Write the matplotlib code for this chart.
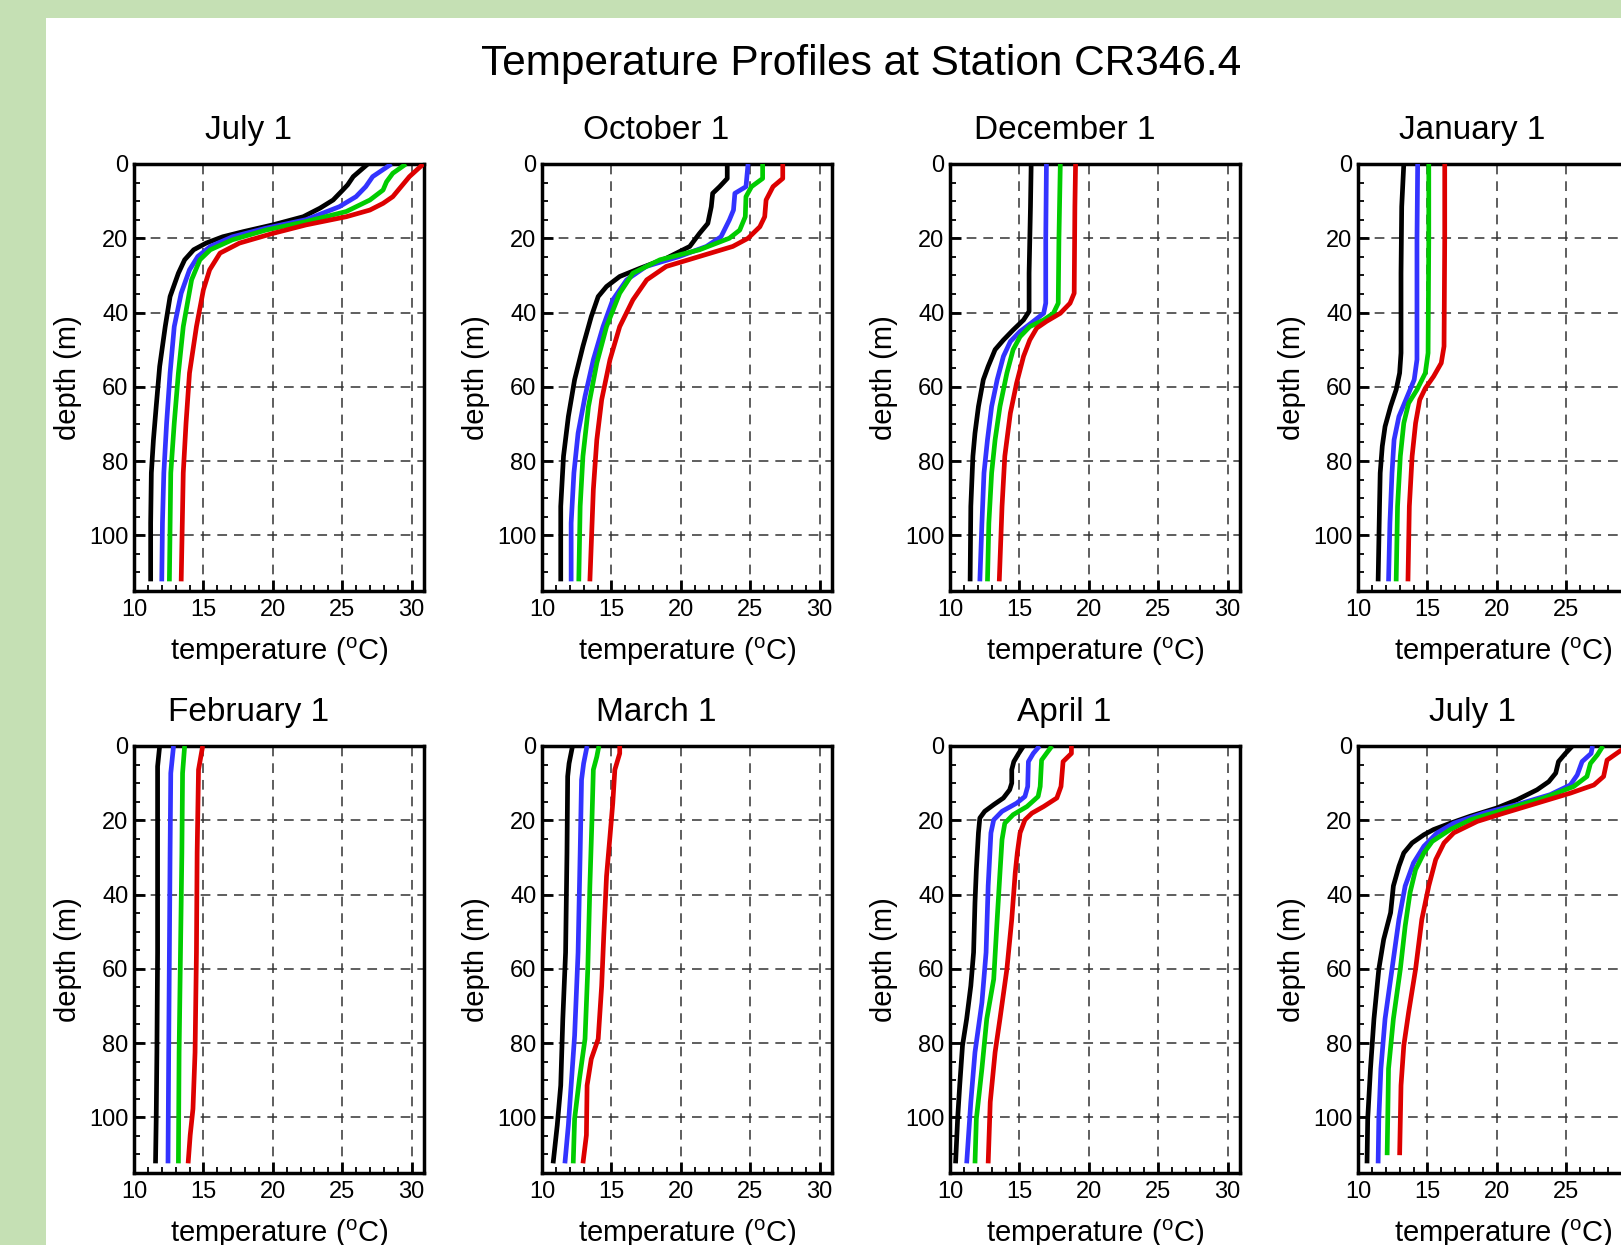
import matplotlib
matplotlib.use('Agg')
import matplotlib.pyplot as plt
from matplotlib.patches import Rectangle
from matplotlib.ticker import MultipleLocator

# depth (m) / temperature (C) in each panel
# July 1 (first)
jul1_k_d = [0, 3.4, 5.6, 7, 9.7, 11.9, 14.2, 16.4, 18.2, 19.6, 21.3, 23.1, 25.8, 29.4, 35.7, 43.8, 54.5, 65.3, 74.3, 83.2, 96.7, 112.4]
jul1_k_t = [26.85, 25.8, 25.4, 25.05, 24.35, 23.4, 22.2, 20.0, 17.9, 16.4, 15.2, 14.3, 13.65, 13.2, 12.6, 12.25, 11.85, 11.6, 11.4, 11.25, 11.2, 11.2]
jul1_b_d = [0, 3.4, 6.1, 8.8, 11.5, 15, 17.3, 19.6, 22.2, 24.9, 28.5, 34.8, 43.8, 56.3, 69.8, 83.2, 96.7, 112.4]
jul1_b_t = [28.55, 27.2, 26.7, 26.0, 24.8, 22.4, 19.5, 17.1, 15.5, 14.6, 14.0, 13.4, 12.9, 12.6, 12.35, 12.15, 12.05, 12.0]
jul1_g_d = [0, 2.5, 4.8, 7, 9.7, 12.8, 15.5, 17.8, 20.4, 23.1, 25.8, 31.2, 43.8, 56.3, 69.8, 83.2, 112.4]
jul1_g_t = [29.6, 28.65, 28.2, 27.95, 27.0, 25.3, 22.4, 19.5, 17.1, 15.5, 14.75, 14.15, 13.55, 13.2, 12.9, 12.65, 12.55]
jul1_r_d = [0, 3.4, 6.1, 8.8, 10.6, 12.4, 14.2, 16.4, 18.7, 21.3, 24.0, 28.5, 33.9, 43.8, 56.3, 69.8, 83.2, 112.4]
jul1_r_t = [30.85, 29.85, 29.25, 28.65, 27.95, 27.0, 25.3, 22.4, 20.0, 17.6, 16.2, 15.45, 15.0, 14.5, 14.0, 13.75, 13.55, 13.4]

# October 1
oct_k_d = [0, 3.9, 6.1, 7.9, 11.5, 16, 18.7, 22.2, 25.4, 28.1, 30.3, 33, 35.7, 41.1, 49.1, 58.1, 68, 78.7, 92.2, 112.4]
oct_k_t = [23.35, 23.35, 22.8, 22.3, 22.2, 21.95, 21.35, 20.65, 18.95, 17.05, 15.6, 14.65, 14.05, 13.55, 12.95, 12.35, 11.9, 11.55, 11.35, 11.35]
oct_b_d = [0, 6.1, 7.9, 12.4, 15.1, 19.6, 22.2, 24.9, 27.6, 31.2, 36.6, 43.8, 52.7, 62.6, 72.5, 83.2, 96.7, 112.4]
oct_b_t = [24.85, 24.7, 23.9, 23.8, 23.5, 22.9, 21.85, 19.9, 17.5, 16.1, 15.1, 14.4, 13.7, 13.1, 12.6, 12.3, 12.1, 12.1]
oct_g_d = [0, 3.9, 6.1, 8.8, 14.2, 17.8, 20, 23.1, 25.8, 29.4, 34.8, 43.8, 53.6, 65.3, 78.7, 92.2, 112.4]
oct_g_t = [25.9, 25.9, 25.1, 24.7, 24.65, 24.25, 23.5, 21.35, 18.5, 16.55, 15.6, 14.65, 13.95, 13.35, 12.95, 12.75, 12.65]
oct_r_d = [0, 3.9, 6.1, 9.7, 14.2, 16.9, 20, 22.2, 24.9, 27.6, 31.2, 36.6, 43.8, 52.7, 63.5, 74.3, 87.7, 112.4]
oct_r_t = [27.35, 27.35, 26.65, 26.15, 26.05, 25.7, 24.85, 23.75, 21.35, 18.95, 17.55, 16.55, 15.6, 14.9, 14.3, 13.95, 13.7, 13.45]

# December 1
dec_k_d = [0, 11.5, 29.4, 39.7, 42, 44.7, 47.4, 50, 54.5, 58.1, 65.3, 72.5, 78.7, 92.2, 112.4]
dec_k_t = [15.85, 15.8, 15.7, 15.7, 15.3, 14.55, 13.85, 13.25, 12.75, 12.4, 12.05, 11.8, 11.65, 11.5, 11.45]
dec_b_d = [0, 20.4, 37.5, 40.2, 42.4, 45.1, 47.8, 51.8, 58.1, 65.3, 74.3, 83.2, 96.7, 112.4]
dec_b_t = [16.95, 16.9, 16.9, 16.75, 16.0, 15.05, 14.35, 13.85, 13.4, 13.0, 12.7, 12.45, 12.3, 12.15]
dec_g_d = [0, 20.4, 37.5, 40.2, 42, 43.8, 46.5, 50, 56.3, 65.3, 74.3, 83.2, 96.7, 112.4]
dec_g_t = [17.95, 17.85, 17.8, 17.45, 16.75, 15.75, 15.05, 14.55, 14.1, 13.6, 13.25, 13.0, 12.8, 12.7]
dec_r_d = [0, 11.5, 34.8, 37.5, 40.2, 42.4, 44.2, 47.4, 51.8, 59, 67.1, 78.7, 92.2, 112.4]
dec_r_t = [19.05, 19.0, 18.95, 18.65, 17.95, 16.95, 16.25, 15.75, 15.3, 14.8, 14.35, 13.95, 13.75, 13.55]

# January 1
jan_k_d = [0, 11.5, 29.4, 50.9, 56.3, 60.8, 65.3, 70.7, 76, 83.2, 92.2, 112.4]
jan_k_t = [13.3, 13.15, 13.1, 13.1, 13.0, 12.75, 12.35, 11.95, 11.75, 11.6, 11.55, 11.45]
jan_b_d = [0, 20.4, 52.7, 58.1, 62.6, 68, 74.3, 83.2, 96.7, 112.4]
jan_b_t = [14.3, 14.25, 14.25, 14.05, 13.55, 12.95, 12.6, 12.45, 12.3, 12.2]
jan_g_d = [0, 20.4, 50.9, 56.3, 60.8, 64.4, 69.8, 78.7, 92.2, 112.4]
jan_g_t = [15.1, 15.1, 15.05, 14.85, 14.25, 13.65, 13.3, 13.05, 12.85, 12.75]
jan_r_d = [0, 20.4, 49.1, 53.6, 57.2, 60.4, 63.5, 69.8, 78.7, 92.2, 112.4]
jan_r_t = [16.25, 16.25, 16.2, 16.0, 15.45, 14.85, 14.45, 14.15, 13.9, 13.7, 13.6]

# February 1
feb_k_d = [0, 5.5, 19.9, 55.6, 82.5, 100.4, 112.4]
feb_k_t = [11.85, 11.7, 11.7, 11.7, 11.65, 11.6, 11.55]
feb_b_d = [0, 7.3, 28.8, 55.6, 82.5, 112.4]
feb_b_t = [12.85, 12.65, 12.6, 12.55, 12.5, 12.45]
feb_g_d = [0, 7.3, 28.8, 55.6, 82.5, 112.4]
feb_g_t = [13.65, 13.5, 13.45, 13.35, 13.25, 13.2]
feb_r_d = [0, 6.4, 28.8, 55.6, 82.5, 97.7, 104.8, 112.4]
feb_r_t = [14.95, 14.65, 14.55, 14.5, 14.4, 14.25, 14.05, 13.9]

# March 1
mar_k_d = [0, 4.7, 8.2, 28.8, 55.6, 73.5, 91.4, 102.1, 112.4]
mar_k_t = [12.2, 11.95, 11.85, 11.8, 11.7, 11.5, 11.35, 11.1, 10.8]
mar_b_d = [0, 4.7, 9.1, 28.8, 55.6, 78, 91.4, 102.1, 112.4]
mar_b_t = [13.25, 13.0, 12.85, 12.75, 12.6, 12.35, 12.1, 11.9, 11.65]
mar_g_d = [0, 2.9, 6.4, 19.9, 37.7, 60.1, 78.9, 89.6, 100.4, 112.4]
mar_g_t = [14.1, 13.95, 13.7, 13.6, 13.45, 13.3, 13.1, 12.7, 12.35, 12.25]
mar_r_d = [0, 2, 6.4, 15.4, 24.3, 35.1, 51.2, 64.6, 78.9, 84.3, 91.4, 104.8, 112.4]
mar_r_t = [15.6, 15.6, 15.25, 15.1, 14.9, 14.65, 14.45, 14.3, 14.05, 13.55, 13.25, 13.2, 12.95]

# April 1
apr_k_d = [0, 2, 4.2, 6.4, 10, 11.8, 14, 15.8, 17.6, 19.4, 23.4, 33.3, 42.2, 55.6, 64.6, 73.5, 80.7, 91.4, 100.4, 112.4]
apr_k_t = [15.3, 14.95, 14.6, 14.45, 14.45, 14.3, 13.85, 13.15, 12.5, 12.15, 12.05, 11.9, 11.8, 11.7, 11.5, 11.2, 10.9, 10.7, 10.55, 10.4]
apr_b_d = [0, 2, 4.2, 10.9, 13.6, 15.4, 17.6, 19.9, 23.4, 37.7, 55.6, 69.1, 82.5, 95.9, 112.4]
apr_b_t = [16.45, 16.0, 15.65, 15.6, 15.4, 14.8, 13.75, 13.15, 12.95, 12.75, 12.6, 12.3, 11.8, 11.5, 11.2]
apr_g_d = [0, 2, 3.8, 10.9, 13.6, 16.3, 18.5, 20.8, 25.2, 34.2, 46.7, 62.8, 73.5, 86.9, 100.4, 112.4]
apr_g_t = [17.35, 16.95, 16.6, 16.5, 16.35, 15.55, 14.55, 13.95, 13.75, 13.6, 13.4, 13.15, 12.65, 12.3, 11.9, 11.8]
apr_r_d = [0, 2, 4.2, 10.9, 14, 16.3, 18.1, 19.9, 23.4, 28.8, 34.2, 46.7, 60.1, 73.5, 82.5, 95.9, 112.4]
apr_r_t = [18.75, 18.75, 18.15, 18.0, 17.7, 16.75, 15.9, 15.4, 15.05, 14.85, 14.7, 14.45, 14.1, 13.6, 13.25, 12.9, 12.75]

# July 1 (second)
jul2_k_d = [0, 2, 4.2, 7.3, 9.6, 11.8, 14.5, 16.7, 18.9, 20.8, 22.5, 23.9, 26.1, 28.8, 32.4, 37.7, 44.9, 52.1, 60.1, 73.5, 86.9, 100.4, 112.4]
jul2_k_t = [25.45, 24.95, 24.45, 24.25, 23.75, 22.9, 21.45, 20.0, 18.1, 16.65, 15.45, 14.75, 13.9, 13.3, 12.95, 12.55, 12.35, 11.85, 11.5, 11.15, 10.9, 10.7, 10.65]
jul2_b_d = [0, 2, 4.2, 7.8, 10.5, 13.1, 15.8, 18.1, 20.8, 23.4, 27, 31.5, 37.7, 46.7, 60.1, 73.5, 86.9, 100.4, 112.4]
jul2_b_t = [26.9, 26.8, 26.15, 25.8, 25.3, 23.85, 21.45, 19.05, 16.9, 15.7, 14.75, 14.0, 13.4, 12.95, 12.45, 11.95, 11.65, 11.5, 11.45]
jul2_g_d = [0, 2.4, 4.7, 8.2, 10.9, 14, 17.2, 19.9, 22.5, 25.7, 28.8, 33.3, 39.5, 48.5, 60.1, 73.5, 86.9, 110.2]
jul2_g_t = [27.65, 27.25, 26.75, 26.5, 25.55, 23.4, 20.5, 18.1, 16.65, 15.35, 14.75, 14.15, 13.75, 13.4, 13.05, 12.55, 12.2, 12.1]
jul2_r_d = [0, 3.8, 8.2, 10.5, 12.7, 15.4, 18.1, 20.3, 23.4, 26.1, 30.6, 37.7, 46.7, 60.1, 71.7, 80.7, 91.4, 110.2]
jul2_r_t = [29.4, 27.95, 27.7, 27.0, 25.3, 22.9, 20.5, 18.6, 16.9, 16.2, 15.6, 15.1, 14.6, 14.15, 13.65, 13.3, 13.1, 13.0]

titles = ['July 1', 'October 1', 'December 1', 'January 1',
          'February 1', 'March 1', 'April 1', 'July 1']
profiles = [
    [(jul1_k_d, jul1_k_t), (jul1_b_d, jul1_b_t), (jul1_g_d, jul1_g_t), (jul1_r_d, jul1_r_t)],
    [(oct_k_d, oct_k_t), (oct_b_d, oct_b_t), (oct_g_d, oct_g_t), (oct_r_d, oct_r_t)],
    [(dec_k_d, dec_k_t), (dec_b_d, dec_b_t), (dec_g_d, dec_g_t), (dec_r_d, dec_r_t)],
    [(jan_k_d, jan_k_t), (jan_b_d, jan_b_t), (jan_g_d, jan_g_t), (jan_r_d, jan_r_t)],
    [(feb_k_d, feb_k_t), (feb_b_d, feb_b_t), (feb_g_d, feb_g_t), (feb_r_d, feb_r_t)],
    [(mar_k_d, mar_k_t), (mar_b_d, mar_b_t), (mar_g_d, mar_g_t), (mar_r_d, mar_r_t)],
    [(apr_k_d, apr_k_t), (apr_b_d, apr_b_t), (apr_g_d, apr_g_t), (apr_r_d, apr_r_t)],
    [(jul2_k_d, jul2_k_t), (jul2_b_d, jul2_b_t), (jul2_g_d, jul2_g_t), (jul2_r_d, jul2_r_t)],
]
colors = ['#000000', '#3333ff', '#00cc00', '#dd0000']

plt.rcParams['font.family'] = ['Liberation Sans', 'DejaVu Sans']
plt.rcParams['mathtext.fontset'] = 'custom'
plt.rcParams['mathtext.rm'] = 'Liberation Sans'
plt.rcParams['lines.scale_dashes'] = False

W, H = 1621, 1245
fig = plt.figure(figsize=(W / 100, H / 100), dpi=100, facecolor='#c5e0b4')
fig.add_artist(Rectangle((46 / W, 0), 1, 1 - 18 / H, transform=fig.transFigure,
                         facecolor='white', edgecolor='none', zorder=-10))

fig.text(861 / W, 1 - 75 / H, 'Temperature Profiles at Station CR346.4',
         ha='center', va='baseline', fontsize=30.5)

col_left = [134, 542, 950, 1358]
row_top = [164, 746]
AXW, AXH = 290, 427

for i, (title, lines) in enumerate(zip(titles, profiles)):
    r, c = divmod(i, 4)
    ax = fig.add_axes([col_left[c] / W, 1 - (row_top[r] + AXH) / H, AXW / W, AXH / H])
    for (d, t), col in zip(lines, colors):
        ax.plot(t, d, color=col, lw=3.4, solid_capstyle='butt', solid_joinstyle='round', zorder=3)
    ax.set_xlim(10, 30.9)
    ax.set_ylim(115, 0)
    ax.xaxis.set_major_locator(MultipleLocator(5))
    ax.xaxis.set_minor_locator(MultipleLocator(1))
    ax.yaxis.set_major_locator(MultipleLocator(20))
    ax.yaxis.set_minor_locator(MultipleLocator(5))
    ax.grid(True, which='major', color='#333333', lw=1.1, linestyle=(0, (7, 5)))
    ax.tick_params(which='both', direction='in', top=False, right=False, labelsize=17)
    ax.tick_params(which='major', length=8, width=2)
    ax.tick_params(which='minor', length=4.5, width=1.3)
    ax.tick_params(axis='x', pad=6)
    ax.tick_params(axis='y', pad=4)
    for s in ax.spines.values():
        s.set_linewidth(2.5)
    ax.text(0.395, 1.0585, title, transform=ax.transAxes, ha='center', va='baseline', fontsize=24)
    ax.text(0.5, -0.162, 'temperature ($^{\\mathrm{o}}$C)', transform=ax.transAxes,
            ha='center', va='baseline', fontsize=21)
    ax.text(-0.228, 0.5, 'depth (m)', transform=ax.transAxes, rotation=90,
            ha='center', va='center', fontsize=21)

fig.savefig('out.png', dpi=100, facecolor=fig.get_facecolor())
